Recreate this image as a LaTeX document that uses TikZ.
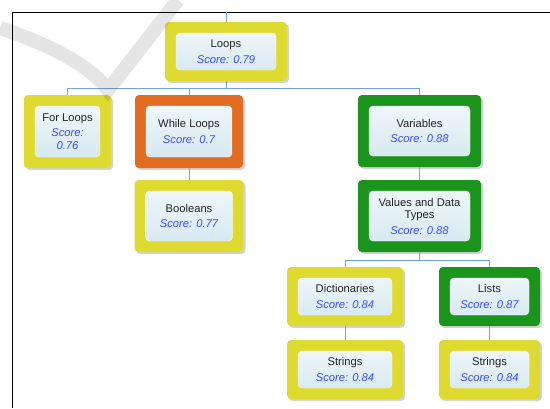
\documentclass[tikz,border=0pt]{standalone}
\usepackage{fontspec}
\setmainfont{Liberation Sans}
\usetikzlibrary{shadows}
\definecolor{frameyellow}{RGB}{222,218,48}
\definecolor{frameorange}{RGB}{226,108,32}
\definecolor{framegreen}{RGB}{26,148,26}
\definecolor{wireblue}{RGB}{110,165,225}
\definecolor{scoreblue}{RGB}{60,75,245}
\definecolor{innertop}{RGB}{244,250,253}
\definecolor{innerbot}{RGB}{210,230,238}
\definecolor{titlegray}{RGB}{35,35,35}
\newcommand{\scoretxt}[1]{{\color{scoreblue}\itshape #1}}
\tikzset{
  topic/.style={rounded corners=4pt, fill=#1, align=center, text=titlegray,
    font=\fontsize{11.2}{12.5}\selectfont,
    drop shadow={shadow xshift=2pt,shadow yshift=-2pt,opacity=.35},
    path picture={\shade[top color=innertop,bottom color=innerbot,draw=white]
      ([shift={(11pt,-11pt)}]path picture bounding box.north west) rectangle
      ([shift={(-11pt,11pt)}]path picture bounding box.south east);}},
  wire/.style={draw=wireblue, line width=1pt}
}
\begin{document}
\begin{tikzpicture}[x=1pt,y=-1pt]
\useasboundingbox (0,0) rectangle (550,408);
\draw[line width=1pt] (550,12) -- (12,12) -- (12,408);
% first row
\node[topic=frameyellow, minimum width=122pt, minimum height=59pt] (loops) at (226,51.5) {Loops\\[3pt]\scoretxt{Score: 0.79}};
\node[topic=frameyellow, minimum width=87pt, minimum height=73pt] (forloops) at (67.5,131.5) {For Loops\\[3pt]\scoretxt{Score:}\\\scoretxt{0.76}};
\node[topic=frameorange, minimum width=108pt, minimum height=73pt] (whileloops) at (189,131.5) {While Loops\\[3pt]\scoretxt{Score: 0.7}};
\node[topic=framegreen, minimum width=123pt, minimum height=72pt] (variables) at (419.5,131) {Variables\\[3pt]\scoretxt{Score: 0.88}};
% second row
\node[topic=frameyellow, minimum width=109pt, minimum height=72pt] (booleans) at (189,216) {Booleans\\[3pt]\scoretxt{Score: 0.77}};
\node[topic=framegreen, minimum width=123pt, minimum height=72pt] (values) at (419.5,216) {Values and Data\\Types\\[3pt]\scoretxt{Score: 0.88}};
% third and fourth row
\node[topic=frameyellow, minimum width=116pt, minimum height=59pt] (dicts) at (345,296.5) {Dictionaries\\[3pt]\scoretxt{Score: 0.84}};
\node[topic=framegreen, minimum width=101pt, minimum height=59pt] (lists) at (489.5,296.5) {Lists\\[3pt]\scoretxt{Score: 0.87}};
\node[topic=frameyellow, minimum width=116pt, minimum height=59pt] (strA) at (345,369.5) {Strings\\[3pt]\scoretxt{Score: 0.84}};
\node[topic=frameyellow, minimum width=101pt, minimum height=59pt] (strB) at (489.5,369.5) {Strings\\[3pt]\scoretxt{Score: 0.84}};
% connectors
\coordinate (topin) at (226,12);
\coordinate (busA) at (226,88);
\coordinate (busB) at (419.5,260);
\draw[wire] (topin) -- (loops.north);
\draw[wire] (loops.south) -- (busA) -| (forloops.north);
\draw[wire] (busA) -| (whileloops.north);
\draw[wire] (busA) -| (variables.north);
\draw[wire] (whileloops.south) -- (booleans.north);
\draw[wire] (variables.south) -- (values.north);
\draw[wire] (values.south) -- (busB) -| (dicts.north);
\draw[wire] (busB) -| (lists.north);
\draw[wire] (dicts.south) -- (strA.north);
\draw[wire] (lists.south) -- (strB.north);
% watermark
\draw[black, opacity=.1, line width=14pt] (0,28) .. controls (50,45) and (90,65) .. (108,90) -- (178,0);
\end{tikzpicture}
\end{document}
